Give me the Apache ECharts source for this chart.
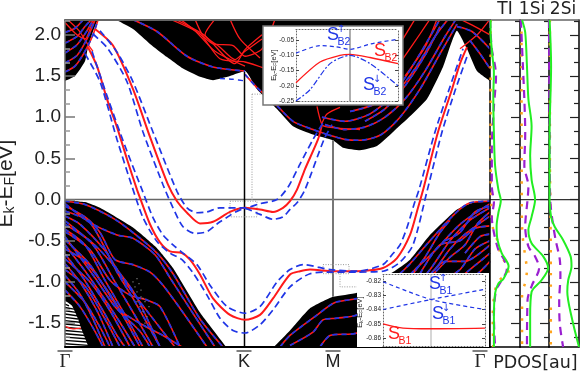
<!DOCTYPE html>
<html><head><meta charset="utf-8">
<style>html,body{margin:0;padding:0;background:#fff}#c{width:581px;height:375px}</style>
<script src="https://cdn.jsdelivr.net/npm/echarts@6/dist/echarts.min.js"></script>
</head><body><div id="c"></div>
<script>
// ---- tick values and labels
const majorE=[-1.5,-1,-0.5,0,0.5,1,1.5,2];
const minorE=[-1.667,-1.333,-1.167,-0.833,-0.667,-0.333,-0.167,0.167,0.333,0.667,0.833,1.167,1.333,1.667,1.833,2.167];
const pathK=[0,179,268,415];
const pathLabels=['Γ','K','M','Γ'];
const inset1Ticks=[-0.25,-0.2,-0.15,-0.1,-0.05];
const inset2Ticks=[-0.86,-0.85,-0.84,-0.83,-0.82];
// ---- surface states (k index, eV)
const sB2Red=[[30,2.07],[48,1.87],[68,1.34],[85,.76],[103,.18],[112,-.02],[122,-.16],[135,-.29],[148,-.27],[165,-.15],[180,-.10],[195,-.12],[208,-.15],[218,-.10],[225,-.02],[232,.12],[240,.37],[253,.73],[257,.91]];
const sB2Up=[[35,2.05],[52,1.79],[68,1.43],[88,.82],[112,.10],[122,-.10],[132,-.16],[142,-.15],[155,-.10],[180,-.10],[195,-.05],[212,0],[223,.15],[235,.43],[248,.73],[259,.95]];
const sB2Dn=[[28,2.01],[43,1.83],[62,1.43],[78,.82],[98,.18],[108,-.10],[118,-.33],[130,-.41],[142,-.39],[155,-.27],[180,-.11],[195,-.18],[208,-.24],[218,-.21],[225,-.12],[232,-.04],[240,.12],[259,.73],[267,.91]];
const sB1Red=[[23,1.85],[32,1.62],[42,1.22],[52,.88],[62,.49],[72,.12],[75,.02],[85,-.30],[95,-.52],[105,-.63],[117,-.65],[125,-.73],[135,-.91],[148,-1.20],[165,-1.40],[180,-1.46],[195,-1.40],[208,-1.20],[225,-.91],[235,-.87],[245,-.85],[268,-.87],[292,-.87],[318,-.83],[332,-.71],[345,-.43],[353,-.10],[359,.16],[373,.82],[387,1.34],[395,1.65],[402,1.85]];
const sB1Up=[[27,1.80],[42,1.26],[60,.65],[77,.12],[88,-.22],[98,-.43],[108,-.55],[118,-.65],[132,-.79],[145,-1.04],[162,-1.30],[180,-1.38],[195,-1.30],[212,-1.00],[225,-.85],[238,-.79],[265,-.85],[292,-.87],[318,-.79],[327,-.67],[335,-.55],[342,-.34],[349,-.06],[354,.12],[370,.82],[385,1.37],[398,1.83]];
const sB1Dn=[[20,1.77],[35,1.43],[52,.73],[67,.16],[78,-.22],[92,-.51],[105,-.65],[117,-.73],[128,-.89],[142,-1.16],[155,-1.44],[168,-1.59],[180,-1.62],[195,-1.52],[208,-1.34],[225,-1.06],[245,-.90],[268,-.88],[292,-.88],[318,-.87],[335,-.76],[348,-.55],[362,.10],[377,.82],[390,1.32],[403,1.77]];
// ---- projected bulk continuum edges
const contLeftEdge=[[0,1.44],[10,1.5],[20,1.68],[23,1.85],[28,2.04],[33,2.19]];
const contMainEdge=[[50,2.19],[68,2.07],[85,1.89],[102,1.73],[118,1.59],[135,1.49],[148,1.45],[165,1.50],[180,1.56],[192,1.34],[212,1.10],[228,.89],[248,.79],[268,.72],[278,.63],[295,.60],[312,.65],[328,.82],[345,1.01],[362,1.22],[378,1.61],[392,2.05],[402,1.83],[412,1.56],[425,1.44]];
const valLeftEdge=[[0,-.01],[20,-.03],[35,-.1],[68,-.34],[92,-.59],[108,-.83],[135,-1.37],[162,-1.80]];
const valRightEdge=[[208,-1.80],[225,-1.59],[245,-1.32],[268,-1.18],[292,-1.13],[328,-.88],[345,-.73],[365,-.43],[392,-.12],[412,-.02],[425,-.01]];
const gapEdge=[[0,-1.23],[7,-1.29],[13,-1.45],[18,-1.62],[24,-1.80]];
const gapStripes=[-1.27,-1.31,-1.35,-1.39,-1.43,-1.47,-1.51,-1.55,-1.59,-1.63,-1.67,-1.71,-1.75];
const gapStripeEnds=[4,9,11,12,13,15,16,17,18,20,21,22,23];
const greyDots=[[68,-1.0],[70,-1.06],[72,-1.12],[74,-1.02],[76,-1.18],[72,-1.24],[75,-1.3],[78,-1.36],[80,-1.24],[82,-1.42],[76,-1.1],[80,-1.5],[72,-.96],[78,-1.2],[84,-1.3]];
// ---- bulk bands drawn red with blue dashes
const bulkBands=[
 [[0,-.02],[20,-.06],[50,-.24],[70,-.42],[92,-.65],[108,-.9],[135,-1.45],[158,-1.79]],
 [[0,-.05],[25,-.28],[52,-.43],[68,-.47],[90,-.67],[105,-.95],[130,-1.42],[150,-1.79]],
 [[0,-.08],[20,-.21],[35,-.4],[50,-.73],[68,-.79],[85,-.88],[98,-1.04],[115,-1.32],[142,-1.79]],
 [[0,-.39],[25,-.61],[45,-.98],[65,-1.16],[82,-1.22],[95,-1.3],[115,-1.79]],
 [[0,-.49],[25,-.79],[55,-1.34],[82,-1.55],[98,-1.65],[117,-1.79]],
 [[0,-.2],[15,-.3],[40,-.62],[60,-1.0],[85,-1.4],[110,-1.79]],
 [[0,-.3],[25,-.5],[45,-.75],[70,-1.15],[95,-1.79]],
 [[0,-.6],[20,-.75],[45,-1.15],[60,-1.45],[75,-1.79]],
 [[0,-.72],[25,-1.0],[45,-1.35],[65,-1.79]],
 [[0,-.85],[20,-1.05],[40,-1.45],[55,-1.79]],
 [[0,-1.0],[20,-1.25],[35,-1.55],[45,-1.79]],
 [[0,-1.1],[15,-1.3],[30,-1.6],[38,-1.79]],
 [[0,-.45],[30,-.95],[50,-1.3],[75,-1.6],[85,-1.79]],
 [[0,-.14],[25,-.28],[52,-.88],[68,-1.2],[82,-1.5],[95,-1.79]],
 [[0,-.26],[28,-.55],[50,-1.0],[72,-1.45],[88,-1.79]],
 [[0,-.36],[20,-.55],[40,-.98],[60,-1.4],[78,-1.79]],
 [[0,-.55],[22,-.9],[42,-1.25],[58,-1.55],[70,-1.79]],
 [[0,-.66],[18,-.95],[38,-1.35],[52,-1.65],[60,-1.79]],
 [[0,-.78],[15,-1.0],[32,-1.35],[48,-1.79]],
 [[0,-.92],[15,-1.15],[28,-1.45],[40,-1.79]],
 [[215,-1.79],[225,-1.65],[250,-1.42],[270,-1.25],[300,-1.18],[330,-.95],[345,-.78],[365,-.5],[390,-.17],[405,-.04],[425,-.02]],
 [[225,-1.77],[248,-1.61],[258,-1.46],[272,-1.44],[292,-1.4],[330,-1.1],[350,-.85],[370,-.62],[395,-.3],[425,-.05]],
 [[255,-1.79],[265,-1.65],[292,-1.62],[340,-1.2],[365,-.85],[385,-.5],[405,-.25],[425,-.1]],
 [[350,-1.1],[370,-.85],[385,-.6],[400,-.42],[425,-.2]],
 [[355,-.9],[375,-.55],[395,-.5],[410,-.35],[425,-.32]],
 [[360,-1.0],[380,-.75],[400,-.75],[425,-.55]],
 [[375,-1.0],[395,-.85],[410,-.6],[425,-.5]],
 [[385,-.95],[405,-.95],[425,-.75]],
 [[365,-.95],[385,-.7],[400,-.55],[412,-.3],[425,-.15]],
 [[380,-.5],[395,-.4],[410,-.15],[425,-.08]],
 [[345,-.95],[360,-.7],[375,-.4],[385,-.25]],
 [[395,-.95],[410,-.8],[425,-.65]],
 [[400,-.65],[415,-.45],[425,-.42]],
 [[0,1.55],[10,1.62],[20,1.8],[28,2.0],[33,2.18]],
 [[0,1.66],[12,1.75],[22,1.95],[30,2.18]],
 [[0,1.78],[12,1.88],[22,2.05],[28,2.18]],
 [[0,1.9],[12,1.98],[20,2.1],[26,2.18]],
 [[0,2.03],[10,2.08],[18,2.18]],
 [[67,2.19],[92,2.04],[122,1.74],[148,1.61],[180,1.56]],
 [[180,1.52],[192,1.36],[212,1.14],[228,.95],[248,.85],[262,.79]],
 [[262,.79],[280,.73],[295,.72],[315,.78],[335,1.0],[355,1.34],[375,1.77],[392,2.13]],
 [[260,.91],[280,.85],[300,.88],[320,1.0],[340,1.22],[360,1.56],[380,1.98],[390,2.17]],
 [[257,1.0],[280,.95],[305,1.04],[330,1.28],[350,1.59],[370,1.98],[383,2.19]],
 [[285,1.07],[310,1.16],[335,1.40],[355,1.77],[375,2.19]],
 [[300,.95],[320,1.1],[340,1.38],[360,1.75],[375,2.1]],
 [[392,2.10],[407,2.04],[425,1.83]],
 [[405,1.93],[415,1.77],[425,1.59]]
];
// ---- bulk bands drawn red only
const redBands=[
 [[0,2.15],[12,2.0],[20,1.95],[26,2.1],[30,2.18]],
 [[3,2.18],[14,2.05],[22,1.9],[28,1.8]],
 [[105,2.19],[135,2.01],[155,1.71],[180,1.67],[200,1.59]],
 [[130,2.19],[138,1.99],[148,1.89],[168,1.87],[180,1.74],[197,1.83],[210,2.19]],
 [[150,2.19],[140,2.0],[155,1.85],[170,1.7],[180,1.8],[197,1.95]],
 [[110,2.19],[140,1.99],[170,1.65],[180,1.82],[197,2.0]],
 [[115,2.19],[130,2.05],[150,1.8],[180,1.62]],
 [[165,2.19],[175,1.95],[195,1.72]],
 [[252,1.13],[257,.91],[263,.88],[295,.85]],
 [[257,.93],[262,1.04],[275,1.12]],
 [[338,1.71],[355,2.01],[365,2.19]],
 [[338,1.95],[350,2.19]],
 [[340,1.5],[360,1.85],[372,2.19]],
 [[395,2.19],[410,2.1],[425,2.0]],
 [[395,1.83],[413,2.01],[425,2.19]]
];
const blueOnly=[[155,1.47],[168,1.46],[180,1.44]];
const gapBand=[[0,-1.54],[8,-1.57],[16,-1.56]];
// ---- guide lines
const kLine=[[179.5,1.55],[179.5,-1.79]];
const mLine=[[268,.72],[268,-1.18]];
const zeroLine=[[0,0],[425,0]];
const guideA=[[165,-.02],[192,-.02],[192,-.21],[165,-.21],[165,-.02]];
const guideB=[[187,1.28],[187,-.02]];
const guideC=[[187,1.28],[198,1.28]];
const guideD=[[258,-.79],[284,-.79],[284,-.90],[258,-.90],[258,-.79]];
const guideE=[[275,-.90],[275,-1.06],[292,-1.06]];
// ---- PDOS panels: [amount, eV]
const tiGreen=[[.02,2.18],[.02,2.03],[.08,1.75],[.13,1.54],[.11,1.26],[.13,.81],[.17,.41],[.28,.12],[.36,-.01],[.28,-.16],[.22,-.32],[.25,-.49],[.39,-.65],[.62,-.81],[.45,-.96],[.28,-1.02],[.17,-1.14],[.13,-1.42],[.13,-1.79]];
const tiPurple=[[0,2.18],[.06,1.83],[.17,1.62],[.2,1.50],[.13,1.13],[.06,.61],[.06,.16],[.13,-.04],[.06,-.21],[.13,-.40],[.28,-.61],[.47,-.73],[.56,-.85],[.34,-1.01],[.2,-1.10],[.13,-1.42],[.17,-1.79]];
const tiOrange=[[.02,2.18],[.02,.41],[.04,0],[.09,-.33],[.28,-.53],[.34,-.65],[.51,-.77],[.62,-.89],[.34,-.97],[.17,-1.10],[.09,-1.42],[.11,-1.79]];
const si1Green=[[.07,2.18],[.18,2.03],[.24,1.62],[.29,1.22],[.4,.89],[.35,.53],[.4,.24],[.52,0],[.4,-.21],[.29,-.37],[.4,-.53],[.8,-.69],[.97,-.83],[.74,-.98],[.4,-1.12],[.35,-1.42],[.35,-1.79]];
const si1Purple=[[.03,2.18],[.1,1.62],[.15,1.22],[.18,.81],[.15,.41],[.29,.16],[.26,0],[.18,-.33],[.29,-.57],[.52,-.69],[.66,-.83],[.4,-1.05],[.26,-1.22],[.24,-1.79]];
const si1Orange=[[.05,2.18],[.06,0],[.08,-.4],[.18,-.69],[.24,-.85],[.18,-1.01],[.07,-1.14],[.07,-1.79]];
const si2Green=[[.02,2.18],[.07,1.62],[.02,.81],[.02,0],[.07,-.21],[.19,-.33],[.47,-.49],[.72,-.69],[.75,-.81],[.64,-.98],[.61,-1.12],[.75,-1.42],[1,-1.79]];
const si2Purple=[[0,2.18],[.02,.81],[.04,0],[.11,-.24],[.22,-.49],[.36,-.73],[.38,-.93],[.34,-1.22],[.36,-1.51],[.47,-1.79]];
const si2Orange=[[.03,2.18],[.03,.5],[.05,-.2],[.06,-.9],[.06,-1.79]];
// ---- insets
const in1Up=[[0,-.093],[24,-.068],[40,-.072],[54,-.08],[75,-.062],[102,-.047]];
const in1Red=[[0,-.19],[24,-.122],[44,-.10],[54,-.097],[74,-.107],[102,-.127]];
const in1Dn=[[0,-.25],[14,-.213],[34,-.127],[54,-.10],[74,-.127],[102,-.2]];
const in1Mid=[[54,-.25],[54,-.0133]];
const in2Up=[[0,-.8205],[48,-.833],[102,-.84]];
const in2Dn=[[0,-.84],[48,-.833],[102,-.8258]];
const in2Red=[[0,-.85],[20,-.853],[48,-.8535],[102,-.853]];
const in2Mid=[[48,-.8656],[48,-.8151]];

const RED='#ff1a1a',BLUE='#1f35e6',GRN='#22ee22',PUR='#9a1fd0',ORG='#ffa41c';
const Emin=-1.79,Emax=2.18;
const sans='"Liberation Sans",Arial,sans-serif',dv='"DejaVu Sans",sans-serif';

const grid=[
 {left:65,top:20,width:425,height:327,outerBoundsMode:'none'},
 {left:490,top:20,width:30,height:327,outerBoundsMode:'none'},
 {left:520,top:20,width:29,height:327,outerBoundsMode:'none'},
 {left:549,top:20,width:30,height:327,outerBoundsMode:'none'},
 {left:296,top:29,width:102,height:72,outerBoundsMode:'none'},
 {left:383,top:274,width:102,height:72,outerBoundsMode:'none'}
];
const xAxis=[],yAxis=[],series=[];
function xA(g,o){xAxis.push(Object.assign({type:'value',gridIndex:g,show:true,axisLabel:{show:false},axisTick:{show:false},splitLine:{show:false}},o));return xAxis.length-1;}
function yA(g,o){yAxis.push(Object.assign({type:'value',gridIndex:g,show:true,axisLabel:{show:false},axisTick:{show:false},splitLine:{show:false}},o));return yAxis.length-1;}
function ln(x,y,data,color,w,type,z,smooth){series.push({type:'line',xAxisIndex:x,yAxisIndex:y,data,symbol:'none',silent:true,animation:false,z,smooth:smooth===undefined?0.25:smooth,lineStyle:{color,width:w,type:type||'solid',cap:'butt'}});}
function area(x,y,data,color,origin,z){series.push({type:'line',xAxisIndex:x,yAxisIndex:y,data,symbol:'none',silent:true,animation:false,z,smooth:0.15,lineStyle:{width:0,color},areaStyle:{color,opacity:1,origin}});}

// main grid axes
const mx=xA(0,{min:0,max:425,z:7,position:'bottom',axisLine:{show:true,onZero:false,lineStyle:{color:'#000',width:2}},
 axisLabel:{show:true,customValues:pathK,margin:2,interval:0,hideOverlap:false,showMinLabel:true,showMaxLabel:true,
  formatter:v=>{const i=pathK.indexOf(v);return '{bar|}\n{'+(pathLabels[i]==='Γ'?'g':'t')+'|'+pathLabels[i]+'}';},
  rich:{bar:{width:15,height:1.5,backgroundColor:'#555',lineHeight:4},t:{fontFamily:sans,fontSize:18,color:'#222',lineHeight:18},g:{fontFamily:'"Liberation Serif",serif',fontSize:19,color:'#222',lineHeight:18}}}});
xA(0,{min:0,max:425,z:7,position:'top',axisLine:{show:true,onZero:false,lineStyle:{color:'#666',width:2}}});
const my=yA(0,{min:Emin,max:Emax,z:7,position:'left',axisLine:{show:true,onZero:false,lineStyle:{color:'#666',width:1.5}},
 axisTick:{show:true,inside:true,length:10,customValues:majorE,lineStyle:{color:'#777',width:1.5}},
 axisLabel:{show:true,customValues:majorE,margin:4,fontFamily:sans,fontSize:19,color:'#222',formatter:v=>v.toFixed(1)},
 name:'{e|E}{s|k}{e|-E}{s|F}{e|[eV]}',nameLocation:'middle',nameGap:44,nameRotate:90,
 nameTextStyle:{rich:{e:{fontFamily:sans,fontSize:21,color:'#222'},s:{fontFamily:sans,fontSize:14,color:'#222',verticalAlign:'bottom',padding:[8,0,0,0]}}}});
yA(0,{min:Emin,max:Emax,z:7,position:'left',axisLine:{show:false,onZero:false},axisTick:{show:true,inside:true,length:5,customValues:minorE,lineStyle:{color:'#999',width:1.5}}});
yA(0,{min:Emin,max:Emax,z:7,position:'right',axisLine:{show:true,onZero:false,lineStyle:{color:'#000',width:1.5}}});

// black continuum
area(mx,my,contLeftEdge,'#000','end',1);
area(mx,my,contMainEdge,'#000','end',1);
area(mx,my,valLeftEdge,'#000','start',1);
area(mx,my,valRightEdge,'#000','start',1);
// bulk bands
redBands.forEach(b=>ln(mx,my,b,RED,1.3,'solid',2));
bulkBands.forEach(b=>{ln(mx,my,b,RED,1.6,'solid',2);ln(mx,my,b,BLUE,1.7,[5,4],2.1);});
ln(mx,my,blueOnly,BLUE,1.4,[5,4],2.1);
// striped gap near Γ and grey dots, over the bands
area(mx,my,gapEdge,'#fff','start',2.2);
gapStripes.forEach((e,i)=>ln(mx,my,[[0,e],[gapStripeEnds[i],e-.02]],'#000',1.4,'solid',2.3,false));
ln(mx,my,gapBand,RED,1.2,'solid',2.35);
series.push({type:'scatter',xAxisIndex:mx,yAxisIndex:my,data:greyDots,symbol:'rect',symbolSize:1.2,silent:true,animation:false,z:2.4,itemStyle:{color:'#999'}});
// guides
ln(mx,my,zeroLine,'#666',1.5,'solid',1.6,false);
ln(mx,my,kLine,'#000',1.5,'solid',2.5,false);
ln(mx,my,mLine,'#777',2,'solid',2.5,false);
[guideA,guideB,guideC,guideD,guideE].forEach(g=>ln(mx,my,g,'#999',1,[1,1.5],2.6,false));
// surface bands
[sB2Red,sB1Red].forEach(b=>ln(mx,my,b,RED,2,'solid',3));
[sB2Up,sB2Dn,sB1Up,sB1Dn].forEach(b=>ln(mx,my,b,BLUE,1.7,[7,4],3.1));

// PDOS panels
const panels=[[tiGreen,tiPurple,tiOrange],[si1Green,si1Purple,si1Orange],[si2Green,si2Purple,si2Orange]];
panels.forEach((p,i)=>{
 const g=i+1;
 const x=xA(g,{min:0,max:1,z:6,position:'bottom',axisLine:{show:true,onZero:false,lineStyle:{color:'#000',width:1.5}}});
 xA(g,{min:0,max:1,z:6,position:'top',axisLine:{show:true,onZero:false,lineStyle:{color:'#666',width:1.5}}});
 const y=yA(g,{min:Emin,max:Emax,z:6,position:'right',axisLine:{show:true,onZero:false,lineStyle:{color:'#000',width:1.5}},
  axisTick:{show:true,inside:true,length:9,customValues:majorE,lineStyle:{color:'#222',width:1.2}}});
 yA(g,{min:Emin,max:Emax,z:6,position:'right',axisLine:{show:false,onZero:false},axisTick:{show:true,inside:true,length:5,customValues:minorE,lineStyle:{color:'#222',width:1.2}}});
 ln(x,y,[[0,0],[1,0]],'#333',1.2,'solid',2,false);
 ln(x,y,p[2],ORG,2.5,[2.5,9],8,0.3);
 ln(x,y,p[1],PUR,2.2,[8,6],8.1,0.3);
 ln(x,y,p[0],GRN,2,'solid',8.2,0.3);
});

// insets
function inset(g,w,min,max,ticks,dec){
 const dot={lineStyle:{color:'#666',width:1,type:[1,2]}};
 const x=xA(g,{min:0,max:w,z:31,position:'bottom',axisLine:Object.assign({show:true,onZero:false},dot)});
 xA(g,{min:0,max:w,z:31,position:'top',axisLine:Object.assign({show:true,onZero:false},dot)});
 const y=yA(g,{min,max,z:31,position:'left',axisLine:Object.assign({show:true,onZero:false},dot),
  axisTick:{show:true,inside:true,length:3,customValues:ticks,lineStyle:{color:'#444',width:1}},
  axisLabel:{show:true,customValues:ticks,margin:2,fontFamily:sans,fontSize:6.5,color:'#222',formatter:v=>v.toFixed(dec)}});
 yA(g,{min,max,z:31,position:'right',axisLine:Object.assign({show:true,onZero:false},dot),axisTick:{show:true,inside:true,length:3,customValues:ticks,lineStyle:{color:'#444',width:1}}});
 return [x,y];
}
const [i1x,i1y]=inset(4,102,-0.25,-0.0133,inset1Ticks,2);
ln(i1x,i1y,in1Mid,'#777',1.2,'solid',31,false);
ln(i1x,i1y,in1Up,BLUE,1.2,[4,3],32);
ln(i1x,i1y,in1Red,RED,1.3,'solid',32);
ln(i1x,i1y,in1Dn,BLUE,1.2,[6,2,2,2],32);
const [i2x,i2y]=inset(5,102,-0.8656,-0.8151,inset2Ticks,2);
ln(i2x,i2y,in2Mid,'#bbb',1.2,'solid',31,false);
ln(i2x,i2y,in2Up,BLUE,1.2,[4,3],32);
ln(i2x,i2y,in2Dn,BLUE,1.2,[4,3],32);
ln(i2x,i2y,in2Red,RED,1.3,'solid',32);

// free text and inset boxes
function txt(text,x,y,size,color,extra){return Object.assign({type:'text',x,y,z:40,style:{text,fill:color,font:size+'px '+(extra&&extra.fam||sans),textAlign:'center',textVerticalAlign:'middle'}});}
function sLabel(x,y,color,sub,arrow){const a=[txt('S',x,y,18,color),txt(sub,x+11,y+7,10.5,color)];if(arrow)a.push(txt(arrow,x+8,y-6,10,color,{fam:dv}));return a;}
const insetName={text:'{a|E}{b|k}{a|-E}{b|F}{a|[eV]}',align:'center',verticalAlign:'middle',rich:{a:{fontSize:7.5,fontFamily:sans,fill:'#222'},b:{fontSize:5,fontFamily:sans,fill:'#222',verticalAlign:'bottom'}}};
const graphic=[
 {type:'rect',shape:{x:263,y:26,width:140,height:79},z:20,style:{fill:'#fff',stroke:'#777',lineWidth:1.5}},
 {type:'rect',shape:{x:357,y:273,width:132,height:74},z:20,style:{fill:'#fff'}},
 txt('TI',505,10,17,'#222',{fam:dv}),txt('1Si',532,10,17,'#222',{fam:dv}),txt('2Si',563,10,17,'#222',{fam:dv}),
 txt('PDOS[au]',535.5,363,17.5,'#222',{fam:dv}),
 {type:'text',x:274,y:65,rotation:Math.PI/2,z:40,style:insetName},
 {type:'text',x:360,y:312,rotation:Math.PI/2,z:40,style:insetName},
 ...sLabel(333,35.5,BLUE,'B2','↑'),
 ...sLabel(380,51,RED,'B2'),
 ...sLabel(369,85,BLUE,'B2','↓'),
 ...sLabel(435,284,BLUE,'B1','↑'),
 ...sLabel(438,314,BLUE,'B1','↓'),
 ...sLabel(394,334,RED,'B1')
];

const chart=echarts.init(document.getElementById('c'),null,{renderer:'canvas'});
chart.setOption({animation:false,backgroundColor:'#fff',grid,xAxis,yAxis,series,graphic});
</script></body></html>
